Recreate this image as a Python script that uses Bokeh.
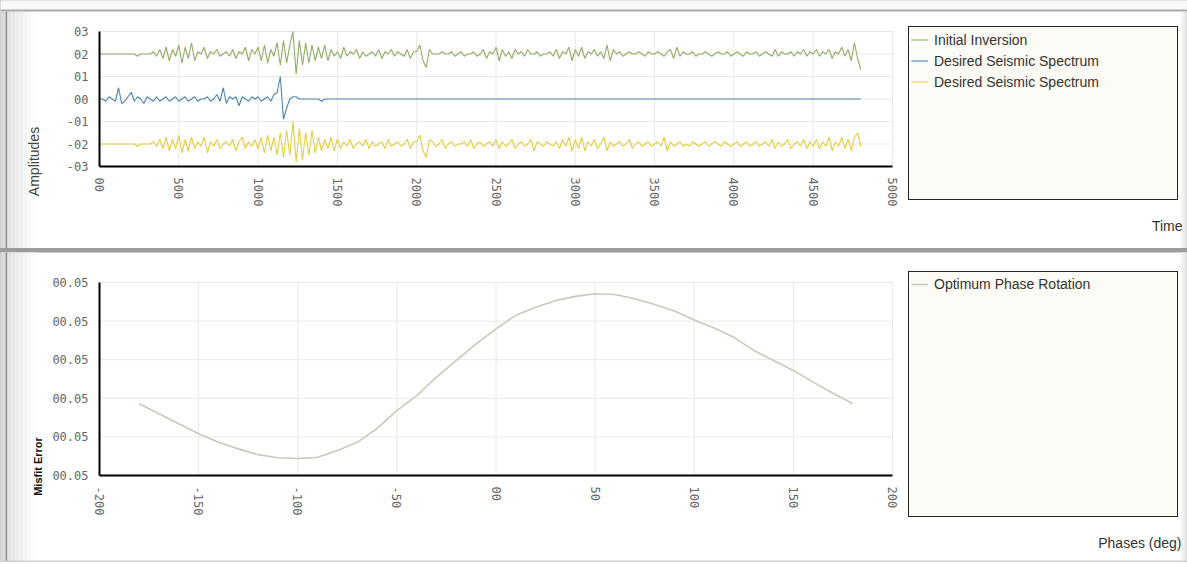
import math
import numpy as np
from bokeh.plotting import figure
from bokeh.layouts import column
from bokeh.models import (Range1d, FixedTicker, CustomJSTickFormatter, Legend, LegendItem,
                          Label, BoxAnnotation)
from bokeh.embed import file_html
from bokeh.resources import INLINE

# ---------------- data ----------------
# seismic traces, sampled every 20 ms from 0 to 4800
trace_time = np.arange(0, 4801, 20)

initial_inversion = [
    0.20, 0.20, 0.20, 0.20, 0.20, 0.20, 0.20, 0.20, 0.20, 0.20, 0.20, 0.20, 0.19, 0.20, 0.20, 0.20, 0.20, 0.21, 0.19, 0.22, 0.18, 0.23, 0.17, 0.22, 0.19,
    0.24, 0.16, 0.23, 0.18, 0.25, 0.17, 0.21, 0.20, 0.23, 0.18, 0.21, 0.20, 0.22, 0.19, 0.20, 0.21, 0.19, 0.22, 0.18, 0.21, 0.20, 0.23, 0.17, 0.22, 0.20,
    0.23, 0.17, 0.24, 0.16, 0.22, 0.19, 0.25, 0.15, 0.26, 0.16, 0.24, 0.30, 0.11, 0.26, 0.15, 0.25, 0.16, 0.24, 0.17, 0.23, 0.18, 0.24, 0.17, 0.22, 0.19,
    0.21, 0.18, 0.23, 0.19, 0.21, 0.20, 0.22, 0.18, 0.21, 0.19, 0.20, 0.21, 0.19, 0.22, 0.18, 0.21, 0.20, 0.22, 0.19, 0.21, 0.20, 0.19, 0.22, 0.18, 0.21,
    0.21, 0.24, 0.17, 0.14, 0.22, 0.20, 0.20, 0.20, 0.21, 0.20, 0.20, 0.21, 0.19, 0.20, 0.21, 0.19, 0.20, 0.20, 0.21, 0.19, 0.20, 0.22, 0.18, 0.21, 0.20,
    0.23, 0.17, 0.22, 0.19, 0.21, 0.18, 0.22, 0.20, 0.21, 0.19, 0.22, 0.20, 0.20, 0.21, 0.19, 0.20, 0.20, 0.21, 0.19, 0.22, 0.18, 0.21, 0.20, 0.23, 0.17,
    0.22, 0.19, 0.23, 0.18, 0.21, 0.20, 0.22, 0.19, 0.21, 0.18, 0.24, 0.17, 0.22, 0.20, 0.21, 0.19, 0.20, 0.21, 0.20, 0.20, 0.21, 0.20, 0.19, 0.21, 0.20,
    0.20, 0.21, 0.20, 0.19, 0.21, 0.22, 0.18, 0.23, 0.19, 0.21, 0.20, 0.20, 0.21, 0.19, 0.20, 0.20, 0.21, 0.20, 0.19, 0.20, 0.21, 0.20, 0.20, 0.21, 0.19,
    0.20, 0.21, 0.20, 0.19, 0.21, 0.20, 0.20, 0.21, 0.19, 0.20, 0.21, 0.20, 0.19, 0.22, 0.19, 0.21, 0.20, 0.20, 0.21, 0.19, 0.21, 0.20, 0.22, 0.19, 0.21,
    0.20, 0.22, 0.19, 0.21, 0.20, 0.22, 0.18, 0.21, 0.20, 0.23, 0.19, 0.22, 0.17, 0.25, 0.18, 0.13,
]

desired_spectrum_b = [
    -0.20, -0.20, -0.20, -0.20, -0.20, -0.20, -0.20, -0.20, -0.20, -0.20, -0.20, -0.20, -0.21, -0.20, -0.20, -0.20, -0.20, -0.19, -0.21, -0.18, -0.22, -0.17, -0.23, -0.18, -0.22,
    -0.16, -0.24, -0.18, -0.23, -0.17, -0.22, -0.19, -0.21, -0.17, -0.24, -0.19, -0.21, -0.18, -0.22, -0.20, -0.19, -0.21, -0.18, -0.23, -0.19, -0.17, -0.22, -0.19, -0.21, -0.18,
    -0.22, -0.17, -0.24, -0.16, -0.23, -0.17, -0.25, -0.15, -0.26, -0.14, -0.25, -0.10, -0.28, -0.13, -0.27, -0.15, -0.25, -0.14, -0.24, -0.17, -0.23, -0.18, -0.22, -0.17, -0.23,
    -0.18, -0.22, -0.19, -0.21, -0.18, -0.22, -0.20, -0.19, -0.21, -0.18, -0.22, -0.19, -0.21, -0.20, -0.19, -0.22, -0.18, -0.21, -0.20, -0.19, -0.21, -0.20, -0.18, -0.22, -0.19,
    -0.19, -0.16, -0.23, -0.26, -0.18, -0.19, -0.21, -0.20, -0.18, -0.22, -0.20, -0.19, -0.21, -0.20, -0.20, -0.19, -0.21, -0.18, -0.22, -0.20, -0.19, -0.21, -0.20, -0.19, -0.21,
    -0.18, -0.22, -0.19, -0.21, -0.20, -0.18, -0.22, -0.20, -0.19, -0.21, -0.20, -0.18, -0.23, -0.19, -0.20, -0.21, -0.19, -0.20, -0.21, -0.19, -0.22, -0.18, -0.21, -0.17, -0.23,
    -0.18, -0.22, -0.17, -0.23, -0.19, -0.21, -0.18, -0.22, -0.20, -0.17, -0.23, -0.19, -0.21, -0.20, -0.19, -0.21, -0.20, -0.18, -0.22, -0.20, -0.19, -0.21, -0.20, -0.19, -0.21,
    -0.20, -0.19, -0.21, -0.17, -0.23, -0.19, -0.21, -0.20, -0.19, -0.21, -0.20, -0.21, -0.19, -0.20, -0.21, -0.20, -0.19, -0.21, -0.20, -0.19, -0.20, -0.21, -0.19, -0.20, -0.21,
    -0.20, -0.19, -0.21, -0.20, -0.19, -0.21, -0.20, -0.19, -0.21, -0.20, -0.19, -0.21, -0.18, -0.22, -0.19, -0.21, -0.20, -0.18, -0.22, -0.20, -0.19, -0.21, -0.18, -0.22, -0.19,
    -0.21, -0.18, -0.22, -0.19, -0.21, -0.17, -0.23, -0.19, -0.21, -0.17, -0.22, -0.18, -0.23, -0.17, -0.15, -0.21,
]

# blue trace: active until ~1480 ms, then flat to 4800 ms
blue_time = list(range(0, 1481, 20)) + [4800]
desired_spectrum_a = [
    0.00, 0.00, -0.01, 0.01, 0.00, -0.01, 0.05, -0.02, -0.01, 0.01, 0.03, -0.01, 0.01, 0.00, -0.02, 0.01, 0.00, -0.01, 0.01, -0.01, 0.00, 0.01, -0.01, 0.00, 0.01,
    -0.01, 0.00, 0.01, -0.01, 0.00, 0.01, -0.01, 0.00, 0.00, 0.01, -0.01, 0.00, 0.02, -0.01, 0.05, -0.02, 0.01, 0.00, 0.01, -0.03, 0.01, 0.00, -0.01, 0.01, 0.00,
    0.01, -0.01, 0.00, 0.01, -0.01, 0.02, 0.03, 0.10, -0.09, -0.04, 0.00, 0.01, 0.01, 0.00, 0.00, 0.00, 0.00, 0.00, 0.00, 0.00, -0.01, 0.00, 0.00, 0.00, 0.00,
    0.00,
]

amp_ticks = [-0.3, -0.2, -0.1, 0.0, 0.1, 0.2, 0.3]
amp_tick_labels = ["-03", "-02", "-01", "00", "01", "02", "03"]
time_ticks = [0, 500, 1000, 1500, 2000, 2500, 3000, 3500, 4000, 4500, 5000]
time_tick_labels = ["00", "500", "1000", "1500", "2000", "2500", "3000", "3500", "4000", "4500", "5000"]

top_series_names = ["Initial Inversion", "Desired Seismic Spectrum", "Desired Seismic Spectrum"]

# misfit error vs phase rotation
phase_deg = [-180, -170, -160, -150, -140, -130, -120, -110, -100, -90, -80, -70, -60, -50, -40, -30, -20, -10,
             0, 10, 20, 30, 40, 50, 60, 70, 80, 90, 100, 110, 120, 130, 140, 150, 160, 170, 180]
misfit_error = [0.050186, 0.050160, 0.050134, 0.050108, 0.050086, 0.050069, 0.050054, 0.050046, 0.050044, 0.050047,
                0.050065, 0.050086, 0.050122, 0.050168, 0.050207, 0.050255, 0.050298, 0.050341,
                0.050380, 0.050415, 0.050436, 0.050453, 0.050464, 0.050471, 0.050469, 0.050458, 0.050443, 0.050426,
                0.050403, 0.050382, 0.050358, 0.050324, 0.050298, 0.050272, 0.050242, 0.050213, 0.050186]

misfit_ticks = [0.0500, 0.0501, 0.0502, 0.0503, 0.0504, 0.0505]
misfit_tick_labels = ["00.05", "00.05", "00.05", "00.05", "00.05", "00.05"]
phase_ticks = [-200, -150, -100, -50, 0, 50, 100, 150, 200]
phase_tick_labels = ["-200", "-150", "-100", "-50", "00", "50", "100", "150", "200"]

bottom_series_names = ["Optimum Phase Rotation"]

assert len(initial_inversion) == len(trace_time)
assert len(desired_spectrum_b) == len(trace_time)
assert len(desired_spectrum_a) == len(blue_time)
assert len(misfit_error) == len(phase_deg)

# ---------------- styles / layout constants ----------------
GREEN = "#8fae66"
BLUE = "#4f84ad"
YELLOW = "#e3cf3e"
CURVE = "#c8cbbb"
GRID = "#e8e8e8"
TICK_FONT = "DejaVu Sans Mono"
TEXT_FONT = "Liberation Sans"
W = 1187
PX_L, PX_R = 99, 892          # data area, pixels from the left

FMT_CODE = ("const i = tvals.findIndex(t => Math.abs(t - tick) < 1e-9); "
            "return i < 0 ? '' : tlabels[i];")


def fmt(tv, tl):
    return CustomJSTickFormatter(args=dict(tvals=tv, tlabels=tl), code=FMT_CODE)


def x_range_for(d0, d1):
    s = (d1 - d0) / (PX_R - PX_L)
    return Range1d(d0 - PX_L * s, d1 + (W - PX_R) * s)


def y_range_for(d0, d1, px_top, px_bot, h):
    s = (d1 - d0) / (px_bot - px_top)
    return Range1d(d0 - (h - px_bot) * s, d1 + px_top * s)


def make_panel(h, xd, yd, px_top, px_bot):
    p = figure(width=W, height=h, x_range=x_range_for(*xd), y_range=y_range_for(*yd, px_top, px_bot, h),
               title=None, toolbar_location=None, output_backend="svg", min_border=0,
               outline_line_color=None, background_fill_color="#ffffff", border_fill_color="#ffffff")
    p.xgrid.visible = False
    p.ygrid.visible = False
    return p


def style_axes(p, xd, yd, xt, xl, yt, yl):
    # grid lines limited to the data area
    p.segment(x0=xt, y0=[yd[0]] * len(xt), x1=xt, y1=[yd[1]] * len(xt), line_color=GRID, line_width=1)
    p.segment(x0=[xd[0]] * len(yt), y0=yt, x1=[xd[1]] * len(yt), y1=yt, line_color=GRID, line_width=1)
    p.xaxis.fixed_location = yd[0]
    p.yaxis.fixed_location = xd[0]
    p.xaxis.bounds = xd
    p.yaxis.bounds = yd
    p.xaxis.ticker = FixedTicker(ticks=xt)
    p.yaxis.ticker = FixedTicker(ticks=yt)
    p.xaxis.formatter = fmt(xt, xl)
    p.yaxis.formatter = fmt(yt, yl)
    for ax in (p.xaxis, p.yaxis):
        ax.axis_line_color = "#000000"
        ax.axis_line_width = 2
        ax.major_tick_line_color = None
        ax.minor_tick_line_color = None
        ax.major_label_text_font = TICK_FONT
        ax.major_label_text_font_size = "12px"
        ax.major_label_text_color = "#666666"
        ax.major_label_standoff = 5
    p.xaxis.major_label_orientation = -math.pi / 2


def screen_box(p, left, right, top, bottom, color):
    # screen units: pixels from the canvas' bottom-left corner
    p.add_layout(BoxAnnotation(left=left, right=right, top=top, bottom=bottom,
                               left_units="screen", right_units="screen",
                               top_units="screen", bottom_units="screen",
                               fill_color=color, fill_alpha=1.0, line_color=None,
                               level="underlay"))


def window_edges(p, h_top):
    screen_box(p, 0, 5, h_top, -2, "#dcdcdc")
    screen_box(p, 5, 7, h_top, -2, "#939393")
    shades = ["#e2e2e2", "#e7e7e7", "#ececec", "#f0f0f0", "#f4f4f4", "#f8f8f8", "#fcfcfc"]
    for i, c in enumerate(shades):
        screen_box(p, 7 + 4 * i, 11 + 4 * i, h_top, -2, c)
    screen_box(p, W - 6, W - 3, h_top, -2, "#f0f0f0")
    screen_box(p, W - 3, W, h_top, -2, "#e2e2e2")


def screen_label(p, x, y, text, align="left", angle=0.0, size="14px", style="normal", color="#333333"):
    p.add_layout(Label(x=x, y=y, x_units="screen", y_units="screen", text=text, angle=angle,
                       text_align=align, text_baseline="middle", text_font=TEXT_FONT,
                       text_font_size=size, text_font_style=style, text_color=color))


def make_legend(p, renderers, names, n_slots, loc, row_h):
    items = [LegendItem(label=n, renderers=[r]) for n, r in zip(names, renderers)]
    filler = p.line(x=[], y=[], line_alpha=0)
    items += [LegendItem(label=" ", renderers=[filler]) for _ in range(n_slots - len(items))]
    leg = Legend(items=items, location=loc, orientation="vertical", padding=2, margin=0,
                 spacing=0, label_height=row_h, glyph_height=row_h, glyph_width=17,
                 label_standoff=6, label_width=241,
                 label_text_font=TEXT_FONT, label_text_font_size="14px",
                 label_text_color="#333333", label_text_baseline="middle",
                 background_fill_color="#fdfbf5", background_fill_alpha=1.0,
                 border_line_color="#262626", border_line_width=1.5, border_line_alpha=1.0,
                 click_policy="none")
    p.add_layout(leg)


# ---------------- top panel ----------------
TOP_H = 248
time_dom, amp_dom = (0, 5000), (-0.3, 0.3)
p_top = make_panel(TOP_H, time_dom, amp_dom, 31, 166)
window_edges(p_top, TOP_H - 11)
screen_box(p_top, 0, W, TOP_H + 2, TOP_H - 9, "#f7f7f7")
screen_box(p_top, 0, W, TOP_H - 9, TOP_H - 11, "#ababab")
style_axes(p_top, time_dom, amp_dom, time_ticks, time_tick_labels, amp_ticks, amp_tick_labels)
r_green = p_top.line(trace_time, initial_inversion, color=GREEN, line_width=1.1)
r_blue = p_top.line(blue_time, desired_spectrum_a, color=BLUE, line_width=1.1)
r_yellow = p_top.line(trace_time, desired_spectrum_b, color=YELLOW, line_width=1.1)

make_legend(p_top, [r_green, r_blue, r_yellow], top_series_names, 8, (908, TOP_H - 200), 21)
screen_label(p_top, 1182, TOP_H - 225, "Time", align="right")
screen_label(p_top, 33.5, TOP_H - 161, "Amplitudes", align="center", angle=math.pi / 2, color="#444444")

# ---------------- bottom panel ----------------
BOT_H = 310
phase_dom, misfit_dom = (-200, 200), (0.0500, 0.0505)
p_bot = make_panel(BOT_H, phase_dom, misfit_dom, 30, 223)
window_edges(p_bot, BOT_H + 2)
screen_box(p_bot, 0, W, 2, -2, "#cfcfcf")
style_axes(p_bot, phase_dom, misfit_dom, phase_ticks, phase_tick_labels, misfit_ticks, misfit_tick_labels)
r_curve = p_bot.line(phase_deg, misfit_error, color=CURVE, line_width=1.6)

make_legend(p_bot, [r_curve], bottom_series_names, 12, (908, BOT_H - 265), 20)
screen_label(p_bot, 1181, BOT_H - 290, "Phases (deg)", align="right")
screen_label(p_bot, 37, BOT_H - 214, "Misfit Error", align="center", angle=math.pi / 2,
             size="11px", style="bold", color="#111111")

layout = column(p_top, p_bot, spacing=4, styles={"background-color": "#9c9c9c"})

open("out.html", "w").write(file_html(layout, INLINE))
